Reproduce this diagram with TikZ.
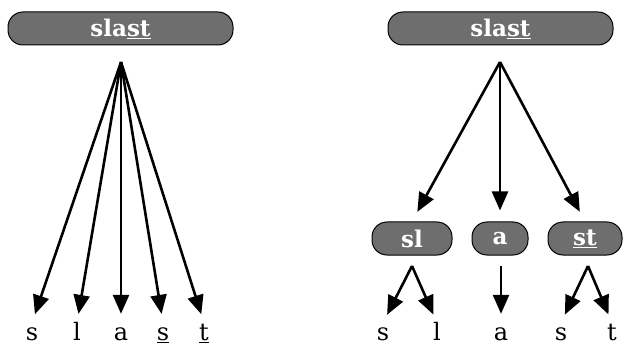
\documentclass[tikz,border=0pt]{standalone}
\usepackage{fontspec}
\setmainfont{DejaVu Serif}
\usetikzlibrary{arrows.meta}
\definecolor{boxgray}{RGB}{110,110,110}
\begin{document}
\begin{tikzpicture}[x=1pt,y=-1pt,
  box/.style={draw=black, line width=1pt, fill=boxgray, rounded corners=15pt,
    minimum height=33pt, inner sep=0pt, text=white,
    font=\fontsize{23}{23}\selectfont\bfseries},
  ltr/.style={font=\fontsize{24}{24}\selectfont, anchor=base, inner sep=0pt,
    text height=17pt, text depth=0pt},
  arr/.style={line width=2.6pt, -{Triangle[length=19pt,width=16pt]}},
]
\useasboundingbox (0,0) rectangle (623,347);
% left tree
\node[box, minimum width=225pt] (topL) at (120.5,28.5) {sla\underline{st}};
\coordinate (apexL) at (121,62);
\node[ltr] (L1) at (32,340) {s};
\node[ltr] (L2) at (77,340) {l};
\node[ltr] (L3) at (121,340) {a};
\node[ltr] (L4) at (163,340) {\underline{s}};
\node[ltr] (L5) at (204,340) {\underline{t}};
\foreach \n in {L1,L2,L3,L4,L5}
  \draw[arr, shorten >=9pt] (apexL) -- (\n.north);
% right tree
\node[box, minimum width=225pt] (topR) at (500.5,28.5) {sla\underline{st}};
\coordinate (apexR) at (500,62);
\node[box, minimum width=80pt] (sl) at (412,238.5) {sl};
\node[box, minimum width=56pt] (a) at (500,238.5) {a};
\node[box, minimum width=74pt] (st) at (585,238.5) {\underline{st}};
\draw[arr, shorten >=11pt] (apexR) -- (sl.north);
\draw[arr, shorten >=11pt] (apexR) -- (a.north);
\draw[arr, shorten >=11pt] (apexR) -- (st.north);
\node[ltr] (R1) at (383,340) {s};
\node[ltr] (R2) at (437,340) {l};
\node[ltr] (R3) at (501,340) {a};
\node[ltr] (R4) at (561,340) {s};
\node[ltr] (R5) at (612,340) {t};
\coordinate (slA) at (412,266);
\coordinate (aA) at (501,266);
\coordinate (stA) at (588,266);
\draw[arr, shorten >=9pt] (slA) -- (R1.north);
\draw[arr, shorten >=9pt] (slA) -- (R2.north);
\draw[arr, shorten >=9pt] (aA) -- (R3.north);
\draw[arr, shorten >=9pt] (stA) -- (R4.north);
\draw[arr, shorten >=9pt] (stA) -- (R5.north);
\end{tikzpicture}
\end{document}
